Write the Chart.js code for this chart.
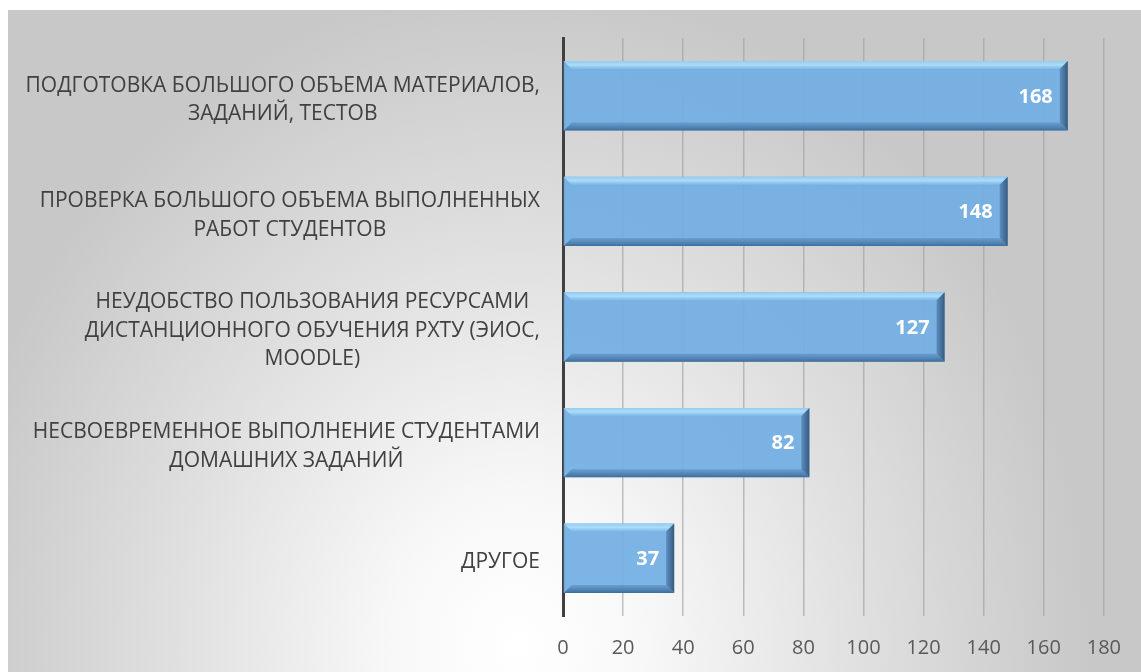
<!DOCTYPE html>
<html lang="ru">
<head>
<meta charset="UTF-8">
<title>Проблемы дистанционного обучения</title>
<style>
    body { margin: 0; background: #fff; }
    .chart-box {
        position: absolute;
        left: 8px;
        top: 10px;
        width: 1133px;
        height: 662px;
        background: radial-gradient(ellipse 620px 720px at 45% 96%, #ffffff 0%, #f8f8f8 20%, #e0e0e0 55%, #c8c8c8 92%);
    }
</style>
</head>
<body>
<div class="chart-box">
    <canvas id="chart"></canvas>
</div>
<script src="https://cdn.jsdelivr.net/npm/chart.js"></script>
<script>
var categories = [
    ["ПОДГОТОВКА БОЛЬШОГО ОБЪЕМА МАТЕРИАЛОВ,", "ЗАДАНИЙ, ТЕСТОВ"],
    ["ПРОВЕРКА БОЛЬШОГО ОБЪЕМА ВЫПОЛНЕННЫХ", "РАБОТ СТУДЕНТОВ"],
    ["НЕУДОБСТВО ПОЛЬЗОВАНИЯ РЕСУРСАМИ", "ДИСТАНЦИОННОГО ОБУЧЕНИЯ РХТУ (ЭИОС,", "MOODLE)"],
    ["НЕСВОЕВРЕМЕННОЕ ВЫПОЛНЕНИЕ СТУДЕНТАМИ", "ДОМАШНИХ ЗАДАНИЙ"],
    ["ДРУГОЕ"]
];
var values = [168, 148, 127, 82, 37];
var axisMin = 0, axisMax = 180, axisStep = 20;

var FONT = "'Open Sans', sans-serif";

// bevel + value labels, drawn from the bar elements
var bevelBars = {
    id: 'bevelBars',
    afterDatasetsDraw: function(chart) {
        var ctx = chart.ctx;
        var meta = chart.getDatasetMeta(0);
        meta.data.forEach(function(bar, i) {
            var x0 = bar.base, x1 = bar.x;
            var y0 = bar.y - bar.height / 2, y1 = bar.y + bar.height / 2;
            var b = 8;
            ctx.save();
            // top light edge
            var g = ctx.createLinearGradient(0, y0, 0, y0 + b);
            g.addColorStop(0, 'rgba(150,205,240,0.95)');
            g.addColorStop(0.5, 'rgba(175,225,250,0.9)');
            g.addColorStop(1, 'rgba(130,190,235,0.6)');
            ctx.fillStyle = g;
            ctx.beginPath();
            ctx.moveTo(x0, y0); ctx.lineTo(x1, y0); ctx.lineTo(x1 - b, y0 + b); ctx.lineTo(x0 + b, y0 + b);
            ctx.closePath(); ctx.fill();
            // bottom dark edge
            g = ctx.createLinearGradient(0, y1 - b, 0, y1);
            g.addColorStop(0, 'rgba(95,150,200,0.7)');
            g.addColorStop(1, 'rgba(60,105,150,0.95)');
            ctx.fillStyle = g;
            ctx.beginPath();
            ctx.moveTo(x0, y1); ctx.lineTo(x1, y1); ctx.lineTo(x1 - b, y1 - b); ctx.lineTo(x0 + b, y1 - b);
            ctx.closePath(); ctx.fill();
            // right dark edge
            g = ctx.createLinearGradient(x1 - b, 0, x1, 0);
            g.addColorStop(0, 'rgba(85,135,185,0.85)');
            g.addColorStop(1, 'rgba(50,85,120,0.95)');
            ctx.fillStyle = g;
            ctx.beginPath();
            ctx.moveTo(x1, y0); ctx.lineTo(x1, y1); ctx.lineTo(x1 - b, y1 - b); ctx.lineTo(x1 - b, y0 + b);
            ctx.closePath(); ctx.fill();
            // value label
            ctx.fillStyle = '#ffffff';
            ctx.font = 'bold 20px ' + FONT;
            ctx.textAlign = 'right';
            ctx.textBaseline = 'middle';
            ctx.fillText(String(values[i]), x1 - 15, bar.y + 1);
            ctx.restore();
        });
    }
};

// category labels: block right-aligned, lines centred inside block
var catLabels = {
    id: 'catLabels',
    afterDraw: function(chart) {
        var ctx = chart.ctx;
        var yScale = chart.scales.y;
        var right = 532, lh = 28.5;
        ctx.save();
        ctx.font = '21px ' + FONT;
        ctx.fillStyle = '#404040';
        ctx.textAlign = 'center';
        ctx.textBaseline = 'middle';
        categories.forEach(function(lines, i) {
            var yc = yScale.getPixelForValue(i) + 4;
            var w = 0;
            lines.forEach(function(l) { w = Math.max(w, ctx.measureText(l).width); });
            var cx = right - w / 2;
            var start = yc - (lines.length - 1) * lh / 2;
            lines.forEach(function(l, k) { ctx.fillText(l, cx, start + k * lh); });
        });
        ctx.restore();
    }
};

new Chart(document.getElementById('chart'), {
    type: 'bar',
    data: {
        labels: categories,
        datasets: [{
            data: values,
            backgroundColor: 'rgba(114,174,228,0.92)',
            borderWidth: 0,
            barPercentage: 0.6,
            categoryPercentage: 1
        }]
    },
    options: {
        indexAxis: 'y',
        responsive: true,
        maintainAspectRatio: false,
        animation: false,
        layout: { padding: { top: 28, right: 37, left: 0, bottom: 0 } },
        plugins: { legend: { display: false }, tooltip: { enabled: false } },
        scales: {
            x: {
                min: axisMin,
                max: axisMax,
                ticks: { stepSize: axisStep, color: '#595959', font: { family: FONT, size: 20 }, padding: 20 },
                grid: { color: 'rgba(160,160,160,0.65)', lineWidth: 1.5, drawTicks: false },
                border: { display: false },
                afterFit: function(s) { s.height = 56; }
            },
            y: {
                z: 1,
                ticks: { display: false },
                grid: { display: false, drawTicks: false },
                border: { color: '#404040', width: 3 },
                afterFit: function(s) { s.width = 555; }
            }
        }
    },
    plugins: [bevelBars, catLabels]
});
</script>
</body>
</html>
